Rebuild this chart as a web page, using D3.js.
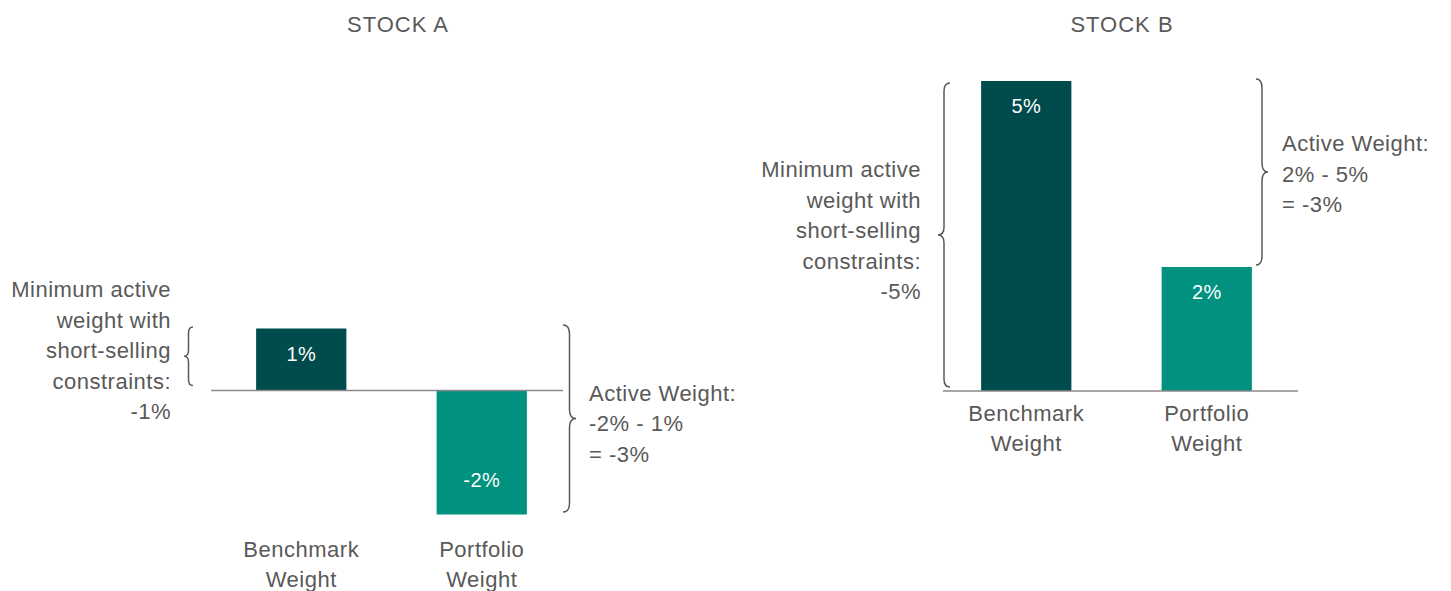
<!DOCTYPE html>
<html>
<head>
<meta charset="utf-8">
<script src="https://cdn.jsdelivr.net/npm/d3@7"></script>
<style>
  html, body { margin: 0; padding: 0; background: #fff; }
  svg { display: block; font-family: Arial, "Liberation Sans", sans-serif; }
</style>
</head>
<body>
<svg id="chart" width="1451" height="591"></svg>
<script>
// ---- data ----
const stockNames = ["STOCK A", "STOCK B"];
const categories = ["Benchmark Weight", "Portfolio Weight"];
const stockAWeights = [1, -2];   // benchmark, portfolio (%)
const stockBWeights = [5, 2];    // benchmark, portfolio (%)
const minActiveLines = ["Minimum active", "weight with", "short-selling", "constraints:"];
const activeWeightTitle = "Active Weight:";

// ---- style ----
const textColor = "#595959";
const barColors = ["#004c4c", "#00917f"];
const axisColor = "#8a8a8a";
const fontSize = 22;
const letterSp = 0.5;
const lineH = 30.5;
const pxPerPct = 62;

const svg = d3.select("#chart");
const pct = d => d + "%";

// panel layout
const panels = [
  {
    name: stockNames[0], values: stockAWeights,
    titleX: 398, zeroY: 390.5, domain: [-2.5, 1],
    bandRange: [211, 572], axisX: [211, 563],
    left:  { x: 193, w: 9,  r: 6, insetTop: -1.5, insetBot: -5, textX: 171, dy: 2 },
    right: { x: 563, w: 13, r: 9, insetTop: -3.5, insetBot: -2.5, textX: 589, dy: -18 }
  },
  {
    name: stockNames[1], values: stockBWeights,
    titleX: 1122, zeroY: 391, domain: [-0.3, 5],
    bandRange: [936, 1297], axisX: [943, 1298],
    left:  { x: 950, w: 12, r: 8, insetTop: 2, insetBot: -4, textX: 921, dy: 3 },
    right: { x: 1256, w: 12, r: 9, insetTop: -2, insetBot: -2, textX: 1282, dy: -21 }
  }
];

// curly brace: flat side at x, tip pointing in dir (+1 right, -1 left)
function bracePath(x, y0, y1, dir, w, r) {
  const xs = x + dir * w / 2, xt = x + dir * w, ym = (y0 + y1) / 2;
  return `M${x},${y0} Q${xs},${y0} ${xs},${y0 + r} L${xs},${ym - r} Q${xs},${ym} ${xt},${ym}` +
         ` Q${xs},${ym} ${xs},${ym + r} L${xs},${y1 - r} Q${xs},${y1} ${x},${y1}`;
}

function multiline(g, lines, x, y0, anchor) {
  const t = g.append("text")
    .attr("x", x).attr("y", y0)
    .attr("text-anchor", anchor)
    .attr("fill", textColor)
    .attr("font-size", fontSize)
    .attr("letter-spacing", letterSp);
  lines.forEach((s, i) => t.append("tspan").attr("x", x).attr("y", y0 + i * lineH).text(s));
}

panels.forEach(p => {
  const g = svg.append("g");
  const [lo, hi] = p.domain;
  const y = d3.scaleLinear().domain(p.domain)
    .range([p.zeroY - lo * pxPerPct, p.zeroY - hi * pxPerPct]);
  const x = d3.scaleBand().domain(categories).range(p.bandRange)
    .paddingInner(0.5).paddingOuter(0.25);

  // title
  g.append("text").attr("x", p.titleX).attr("y", 32)
    .attr("text-anchor", "middle").attr("fill", textColor)
    .attr("font-size", fontSize).attr("letter-spacing", 1)
    .text(p.name);

  // bars
  g.selectAll("rect.bar").data(p.values).join("rect")
    .attr("class", "bar")
    .attr("x", (d, i) => x(categories[i]))
    .attr("width", x.bandwidth())
    .attr("y", d => y(Math.max(0, d)))
    .attr("height", d => Math.abs(y(d) - y(0)))
    .attr("fill", (d, i) => barColors[i]);

  // value labels inside bar ends
  g.selectAll("text.val").data(p.values).join("text")
    .attr("class", "val")
    .attr("x", (d, i) => x(categories[i]) + x.bandwidth() / 2)
    .attr("y", d => d >= 0 ? y(d) + 32 : y(d) - 28)
    .attr("text-anchor", "middle").attr("fill", "#ffffff")
    .attr("font-size", 20).attr("letter-spacing", 0.4)
    .text(pct);

  // zero line
  g.append("line")
    .attr("x1", p.axisX[0]).attr("x2", p.axisX[1])
    .attr("y1", y(0)).attr("y2", y(0))
    .attr("stroke", axisColor).attr("stroke-width", 1.5);

  // category labels along the bottom of the plot area
  categories.forEach(c => {
    multiline(g, c.split(" "), x(c) + x.bandwidth() / 2, y(lo) + 11, "middle");
  });

  const [bench, port] = p.values;

  // left brace: benchmark weight (minimum active weight when shorting is not allowed)
  const lt = y(Math.max(bench, 0)) + p.left.insetTop, lb = y(Math.min(bench, 0)) + p.left.insetBot;
  g.append("path").attr("d", bracePath(p.left.x, lt, lb, -1, p.left.w, p.left.r))
    .attr("fill", "none").attr("stroke", textColor).attr("stroke-width", 1.5);
  const lmid = (lt + lb) / 2;
  const leftLines = minActiveLines.concat([pct(-bench)]);
  multiline(g, leftLines, p.left.textX, lmid - 2 * lineH + p.left.dy, "end");

  // right brace: span between portfolio and benchmark weight
  const rt = y(Math.max(bench, port)) + p.right.insetTop, rb = y(Math.min(bench, port)) + p.right.insetBot;
  g.append("path").attr("d", bracePath(p.right.x, rt, rb, 1, p.right.w, p.right.r))
    .attr("fill", "none").attr("stroke", textColor).attr("stroke-width", 1.5);
  const rmid = (rt + rb) / 2;
  const rightLines = [activeWeightTitle, `${pct(port)} - ${pct(bench)}`, `= ${pct(port - bench)}`];
  multiline(g, rightLines, p.right.textX, rmid + p.right.dy, "start");
});
</script>
</body>
</html>
